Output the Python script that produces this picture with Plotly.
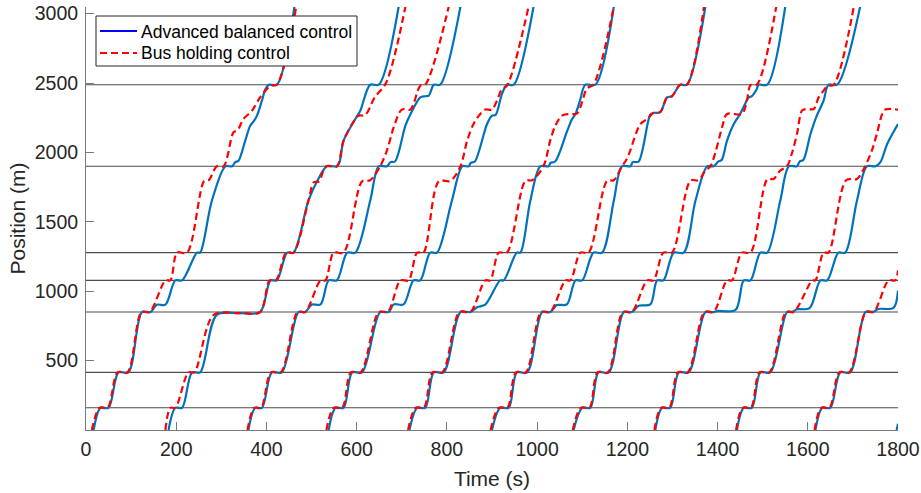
import plotly.graph_objects as go

# ---------------- data ----------------
stops = [160, 415, 850, 1078, 1278, 1900, 2488]
x_ticks = [0, 200, 400, 600, 800, 1000, 1200, 1400, 1600, 1800]
y_ticks = [500, 1000, 1500, 2000, 2500, 3000]
legend_labels = ["Advanced balanced control", "Bus holding control"]

# Advanced balanced control (abc) and Bus holding control (bhc) trajectories
bus1_abc_t = [17, 32, 50, 72, 94, 124, 143, 157, 176, 198, 213, 246, 253, 279, 309, 324, 331, 338, 353, 364, 372, 379, 390, 397, 405, 423, 462]
bus1_abc_y = [0, 160, 160, 415, 415, 850, 850, 903, 903, 1078, 1078, 1278, 1278, 1652, 1900, 1900, 1930, 1940, 2085, 2193, 2225, 2265, 2373, 2450, 2488, 2488, 3050]
bus1_bhc_t = [13, 30, 48, 70, 92, 123, 141, 176, 187, 202, 224, 262, 272, 290, 305, 327, 336, 349, 368, 386, 409, 423, 466]
bus1_bhc_y = [0, 160, 160, 415, 415, 850, 850, 1078, 1078, 1278, 1278, 1795, 1800, 1900, 1900, 2145, 2160, 2241, 2301, 2397, 2481, 2488, 3050]

bus2_abc_t = [183, 198, 213, 235, 253, 290, 340, 386, 409, 423, 446, 460, 493, 512, 534, 556, 562, 571, 597, 608, 630, 649, 693]
bus2_abc_y = [0, 160, 160, 415, 415, 830, 842, 850, 1078, 1078, 1278, 1278, 1652, 1790, 1900, 1900, 1930, 2085, 2241, 2301, 2488, 2488, 3050]
bus2_bhc_t = [176, 187, 198, 227, 240, 283, 340, 386, 407, 421, 444, 460, 493, 505, 516, 532, 556, 571, 597, 604, 619, 640, 665, 708]
bus2_bhc_y = [0, 160, 160, 415, 415, 830, 842, 850, 1078, 1078, 1278, 1278, 1652, 1785, 1790, 1900, 1900, 2085, 2241, 2265, 2270, 2397, 2500, 3050]

bus3_abc_t = [360, 375, 390, 412, 434, 471, 486, 500, 520, 538, 556, 579, 597, 630, 649, 667, 675, 685, 708, 719, 741, 752, 760, 771, 785, 830]
bus3_abc_y = [0, 160, 160, 415, 415, 850, 850, 903, 905, 1078, 1078, 1278, 1278, 1652, 1900, 1900, 1930, 1935, 2193, 2273, 2397, 2405, 2410, 2488, 2488, 3050]
bus3_bhc_t = [358, 373, 388, 410, 432, 469, 486, 520, 531, 549, 571, 612, 630, 652, 667, 682, 700, 719, 741, 752, 804]
bus3_bhc_y = [0, 160, 160, 415, 415, 850, 850, 1078, 1078, 1278, 1278, 1792, 1800, 1900, 2013, 2180, 2309, 2309, 2480, 2488, 3050]

bus4_abc_t = [538, 553, 571, 590, 612, 652, 671, 682, 704, 726, 741, 763, 778, 811, 834, 848, 853, 862, 889, 900, 908, 922, 933, 948, 992]
bus4_abc_y = [0, 160, 160, 415, 415, 850, 850, 905, 905, 1078, 1078, 1278, 1278, 1652, 1900, 1900, 1925, 1935, 2205, 2265, 2270, 2420, 2488, 2488, 3050]
bus4_bhc_t = [533, 549, 568, 587, 609, 649, 669, 697, 715, 734, 748, 782, 808, 830, 845, 859, 874, 885, 900, 911, 922, 933, 981]
bus4_bhc_y = [0, 160, 160, 415, 415, 850, 850, 1078, 1078, 1278, 1278, 1792, 1795, 1900, 2085, 2205, 2277, 2309, 2309, 2373, 2457, 2480, 3050]

bus5_abc_t = [717, 734, 752, 771, 793, 830, 852, 867, 885, 918, 926, 955, 963, 985, 1007, 1025, 1030, 1040, 1066, 1077, 1085, 1095, 1107, 1129, 1170]
bus5_abc_y = [0, 160, 160, 415, 415, 850, 850, 885, 903, 1078, 1078, 1278, 1278, 1652, 1900, 1900, 1925, 1935, 2149, 2237, 2277, 2373, 2488, 2488, 3050]
bus5_bhc_t = [714, 731, 749, 768, 790, 828, 852, 885, 896, 915, 933, 974, 989, 1014, 1029, 1040, 1055, 1070, 1088, 1100, 1110, 1125, 1170]
bus5_bhc_y = [0, 160, 160, 415, 415, 850, 850, 1078, 1078, 1278, 1278, 1795, 1800, 1900, 2085, 2190, 2265, 2277, 2280, 2365, 2460, 2490, 3050]

bus6_abc_t = [900, 918, 937, 955, 978, 1011, 1029, 1044, 1066, 1085, 1100, 1125, 1144, 1170, 1188, 1207, 1212, 1225, 1251, 1258, 1273, 1288, 1299, 1317, 1332, 1373]
bus6_abc_y = [0, 160, 160, 415, 415, 850, 850, 900, 905, 1078, 1078, 1278, 1278, 1652, 1900, 1900, 1930, 1935, 2273, 2285, 2290, 2397, 2405, 2488, 2488, 3050]
bus6_bhc_t = [897, 915, 934, 953, 975, 1009, 1029, 1063, 1074, 1096, 1114, 1155, 1170, 1188, 1200, 1229, 1244, 1258, 1273, 1288, 1299, 1317, 1332, 1370]
bus6_bhc_y = [0, 160, 160, 415, 415, 850, 850, 1078, 1078, 1278, 1278, 1795, 1800, 1900, 1960, 2205, 2240, 2285, 2290, 2397, 2405, 2488, 2488, 3050]

bus7_abc_t = [1081, 1100, 1118, 1136, 1159, 1192, 1210, 1225, 1251, 1266, 1280, 1303, 1325, 1351, 1377, 1391, 1402, 1409, 1421, 1436, 1450, 1462, 1469, 1476, 1487, 1491, 1510, 1550]
bus7_abc_y = [0, 160, 160, 415, 415, 850, 850, 895, 905, 1078, 1078, 1278, 1278, 1652, 1900, 1900, 1935, 1945, 2085, 2205, 2277, 2357, 2397, 2405, 2457, 2488, 2488, 3050]
bus7_bhc_t = [1079, 1097, 1116, 1134, 1157, 1190, 1210, 1244, 1258, 1280, 1299, 1340, 1358, 1373, 1384, 1395, 1410, 1421, 1454, 1465, 1473, 1487, 1530]
bus7_bhc_y = [0, 160, 160, 415, 415, 850, 850, 1078, 1078, 1278, 1278, 1797, 1800, 1869, 1900, 1996, 2181, 2277, 2277, 2373, 2485, 2488, 3050]

bus8_abc_t = [1262, 1277, 1295, 1314, 1336, 1373, 1391, 1400, 1440, 1458, 1473, 1495, 1510, 1539, 1558, 1576, 1582, 1590, 1606, 1620, 1635, 1646, 1665, 1716]
bus8_abc_y = [0, 160, 160, 415, 415, 850, 850, 858, 865, 1078, 1078, 1278, 1278, 1652, 1900, 1900, 1935, 1945, 2133, 2265, 2373, 2488, 2488, 3050]
bus8_bhc_t = [1260, 1275, 1293, 1312, 1334, 1371, 1391, 1421, 1432, 1454, 1473, 1510, 1524, 1539, 1554, 1565, 1576, 1587, 1595, 1613, 1624, 1635, 1643, 1658, 1702]
bus8_bhc_y = [0, 160, 160, 415, 415, 850, 850, 1078, 1078, 1278, 1278, 1805, 1809, 1869, 1900, 1996, 2133, 2301, 2313, 2313, 2397, 2445, 2475, 2490, 3050]

bus9_abc_t = [1443, 1458, 1476, 1495, 1517, 1554, 1566, 1576, 1604, 1628, 1643, 1668, 1683, 1709, 1731, 1750, 1761, 1776, 1800]
bus9_abc_y = [0, 160, 160, 415, 415, 850, 852, 870, 878, 1078, 1078, 1278, 1278, 1652, 1900, 1900, 1930, 2061, 2205]
bus9_bhc_t = [1441, 1456, 1474, 1493, 1515, 1552, 1569, 1610, 1617, 1635, 1646, 1685, 1709, 1724, 1742, 1753, 1765, 1772, 1800]
bus9_bhc_y = [0, 160, 160, 415, 415, 850, 850, 1078, 1078, 1278, 1278, 1800, 1809, 1881, 2013, 2133, 2277, 2309, 2309]

bus10_abc_t = [1617, 1632, 1650, 1672, 1694, 1728, 1746, 1756, 1790, 1800]
bus10_abc_y = [0, 160, 160, 415, 415, 850, 852, 872, 880, 1005]
bus10_bhc_t = [1615, 1630, 1648, 1670, 1692, 1729, 1746, 1779, 1794, 1800]
bus10_bhc_y = [0, 160, 160, 415, 415, 850, 850, 1078, 1078, 1150]

bus11_abc_t = [1797, 1800]
bus11_abc_y = [0, 45]

abc_runs = [
    (bus1_abc_t, bus1_abc_y), (bus2_abc_t, bus2_abc_y), (bus3_abc_t, bus3_abc_y),
    (bus4_abc_t, bus4_abc_y), (bus5_abc_t, bus5_abc_y), (bus6_abc_t, bus6_abc_y),
    (bus7_abc_t, bus7_abc_y), (bus8_abc_t, bus8_abc_y), (bus9_abc_t, bus9_abc_y),
    (bus10_abc_t, bus10_abc_y), (bus11_abc_t, bus11_abc_y),
]
bhc_runs = [
    (bus1_bhc_t, bus1_bhc_y), (bus2_bhc_t, bus2_bhc_y), (bus3_bhc_t, bus3_bhc_y),
    (bus4_bhc_t, bus4_bhc_y), (bus5_bhc_t, bus5_bhc_y), (bus6_bhc_t, bus6_bhc_y),
    (bus7_bhc_t, bus7_bhc_y), (bus8_bhc_t, bus8_bhc_y), (bus9_bhc_t, bus9_bhc_y),
    (bus10_bhc_t, bus10_bhc_y),
]

# ---------------- figure ----------------
FONT = "Liberation Sans, Arial, Helvetica, sans-serif"
TXT = "#262626"
AXC = "#7a7a7a"
BLUE = "#0072BD"
RED = "#FF0000"
DASH = "7px,4px"

W, H = 921, 493
ML, MR, MT, MB = 86, 23, 7, 63
PW, PH = W - ML - MR, H - MT - MB


def px_x(px):
    return (px - ML) / PW


def px_y(py):
    return (H - MB - py) / PH


fig = go.Figure()

for s in stops:
    fig.add_trace(go.Scatter(x=[0, 1800], y=[s, s], mode="lines",
                             line=dict(color="#4d4d4d", width=1.1),
                             showlegend=False, hoverinfo="skip"))

for t, y in abc_runs:
    fig.add_trace(go.Scatter(x=t, y=y, mode="lines",
                             line=dict(color=BLUE, width=2.2, shape="spline", smoothing=0.9),
                             showlegend=False, hoverinfo="skip"))

for t, y in bhc_runs:
    fig.add_trace(go.Scatter(x=t, y=y, mode="lines",
                             line=dict(color=RED, width=2.2, dash=DASH, shape="spline", smoothing=0.9),
                             showlegend=False, hoverinfo="skip"))

# manual legend box (drawn above the traces)
shapes = [
    dict(type="rect", xref="paper", yref="paper", layer="above",
         x0=px_x(96), x1=px_x(357), y0=px_y(66), y1=px_y(16),
         fillcolor="white", line=dict(color=TXT, width=1)),
    dict(type="line", xref="paper", yref="paper", layer="above",
         x0=px_x(100), x1=px_x(137), y0=px_y(31), y1=px_y(31),
         line=dict(color="#0000FF", width=2.2)),
    dict(type="line", xref="paper", yref="paper", layer="above",
         x0=px_x(100), x1=px_x(137), y0=px_y(53), y1=px_y(53),
         line=dict(color=RED, width=2.2, dash=DASH)),
]
annotations = [
    dict(xref="paper", yref="paper", x=px_x(138.5), y=px_y(31.5), xanchor="left", yanchor="middle",
         text=legend_labels[0], showarrow=False, font=dict(family=FONT, size=17.5, color="#000000")),
    dict(xref="paper", yref="paper", x=px_x(138.5), y=px_y(53), xanchor="left", yanchor="middle",
         text=legend_labels[1], showarrow=False, font=dict(family=FONT, size=17.5, color="#000000")),
]

fig.update_layout(
    width=W, height=H,
    margin=dict(l=ML, r=MR, t=MT, b=MB),
    paper_bgcolor="white", plot_bgcolor="white",
    font=dict(family=FONT, color=TXT, size=19),
    showlegend=False,
    shapes=shapes,
    annotations=annotations,
)
fig.update_xaxes(
    range=[0, 1800], tickvals=x_ticks, ticks="inside", ticklen=8, tickwidth=1,
    tickcolor=AXC, showline=True, linecolor=AXC, linewidth=1,
    showgrid=False, zeroline=False, mirror=False, automargin=False,
    ticklabelstandoff=2,
    tickfont=dict(family=FONT, size=19.5, color=TXT),
    title=dict(text="Time (s)", font=dict(family=FONT, size=21, color=TXT), standoff=11),
)
fig.update_yaxes(
    range=[0, 3048], tickvals=y_ticks, ticks="inside", ticklen=8, tickwidth=1,
    tickcolor=AXC, showline=True, linecolor=AXC, linewidth=1,
    showgrid=False, zeroline=False, mirror=False, automargin=False,
    ticklabelstandoff=3,
    tickfont=dict(family=FONT, size=19.5, color=TXT),
    title=dict(text="Position (m)", font=dict(family=FONT, size=21, color=TXT), standoff=3),
)

fig.write_html("out.html")
